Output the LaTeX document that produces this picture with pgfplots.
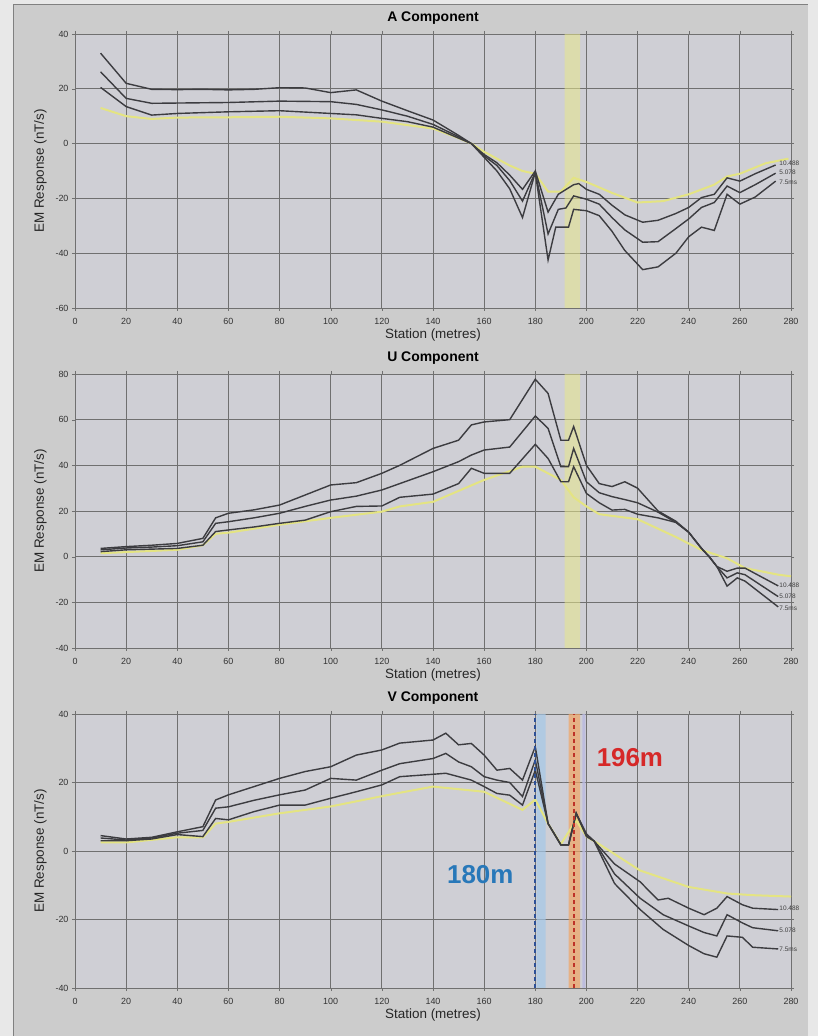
\documentclass[border=0pt]{standalone}
\usepackage{pgfplots}
\pgfplotsset{compat=1.18}
\usepackage{fontspec}
\setmainfont{Liberation Sans}

\definecolor{pagebg}{RGB}{232,232,232}
\definecolor{framebg}{RGB}{204,204,204}
\definecolor{plotbg}{RGB}{207,207,213}
\definecolor{gridc}{RGB}{112,112,112}
\definecolor{linec}{RGB}{60,60,64}
\definecolor{yel}{RGB}{228,228,130}
\definecolor{band}{RGB}{232,232,140}
\definecolor{bluelab}{RGB}{40,120,185}
\definecolor{bluedash}{RGB}{45,80,150}
\definecolor{bluebnd}{RGB}{165,200,232}
\definecolor{redlab}{RGB}{214,40,40}
\definecolor{reddash}{RGB}{190,50,40}
\definecolor{orangebnd}{RGB}{240,165,100}
\definecolor{lavbnd}{RGB}{185,185,225}

\tikzset{endlab/.style={font=\fontsize{6.5}{7}\selectfont, text=black!75, anchor=west, inner sep=1bp}}

\pgfplotsset{
  emplot/.style={
    scale only axis, width=716bp, height=274bp,
    xmin=0, xmax=280, xtick distance=20, ytick distance=20,
    grid=major, major grid style={gridc, line width=0.9bp},
    axis background/.style={fill=plotbg},
    axis line style={gridc, line width=0.9bp},
    tick style={gridc}, tick align=outside, major tick length=3bp,
    ticklabel style={font=\fontsize{9}{10}\selectfont, text=black!80},
    /pgf/number format/assume math mode=true,
    xticklabel style={yshift=-4bp},
    xlabel={Station (metres)}, ylabel={EM Response (nT/s)},
    label style={font=\fontsize{13.5}{15}\selectfont, text=black!85},
    xlabel style={yshift=3bp},
    ylabel style={yshift=2bp},
    title style={font=\bfseries\fontsize{14}{16}\selectfont, yshift=0bp},
    clip mode=individual
  },
  dline/.style={linec, line width=1.4bp, no marks, solid},
  yelplot/.style={line width=2bp, yel, no marks}
}

\begin{document}
\begin{tikzpicture}
\useasboundingbox (0,0) rectangle (818bp,1036bp);
\fill[pagebg] (0,0) rectangle (818bp,1036bp);
\fill[framebg] (13bp,0) rectangle (808bp,1031bp);
\draw[gray, line width=1bp] (13bp,0) -- (13bp,1031bp) -- (808bp,1031bp);

% ---------------- A component ----------------
\begin{axis}[emplot, at={(75bp,728bp)}, anchor=south west,
  ymin=-60, ymax=40, title={A Component}]
\addplot[fill=band, draw=none, opacity=0.55] coordinates {(191.5,-60) (197.5,-60) (197.5,40) (191.5,40)} \closedcycle;
\addplot[yelplot] coordinates {
  (10,13) (15,11.5) (20,10) (30,9) (40,9.5) (60,9.6) (80,9.8) (100,9.2) (120,8)
  (140,5.5) (150,2) (155,0) (160,-3) (170,-8) (175,-10) (180,-11) (185,-17.5)
  (190,-17.5) (195,-12.5) (200,-14) (210,-18) (220,-21.5) (230,-21) (240,-18.5)
  (250,-15) (255,-12) (260,-11) (270,-7.2) (279,-5.5)};
\addplot[dline] coordinates {
  (10,33) (20,22) (30,19.8) (40,19.7) (50,19.8) (60,19.6) (70,19.8) (80,20.4)
  (90,20.3) (100,18.6) (110,19.6) (120,15.5) (130,12) (140,8.6) (150,3) (155,0)
  (160,-5) (165,-10) (170,-16.5) (175,-27) (180,-10.5) (185,-42.5) (188,-30.5)
  (193,-30.5) (195,-24) (200,-24.5) (205,-26.3) (210,-32) (215,-39) (222,-46)
  (228,-45) (235,-40) (240,-34) (245,-30.5) (250,-31.7) (255,-18.5) (260,-22.1)
  (266,-19.5) (274,-13.7)};
\addplot[dline] coordinates {
  (10,26.2) (20,16.5) (30,14.7) (40,14.8) (60,15) (80,15.5) (100,15.3) (110,14.3)
  (120,12.3) (130,10) (140,7) (150,2.5) (155,0) (160,-4.5) (165,-8) (170,-13.5)
  (175,-21) (180,-10.5) (185,-33) (189,-24) (192,-23.5) (195,-19.1) (200,-20.3)
  (205,-22.1) (210,-27) (215,-31.5) (222,-36) (228,-35.8) (235,-31) (240,-27.5)
  (245,-23.3) (250,-21.5) (255,-15.5) (260,-17.9) (266,-15) (274,-10.8)};
\addplot[dline] coordinates {
  (10,20.5) (20,13.5) (30,10.4) (40,11) (60,11.6) (80,12) (100,11) (110,10.5)
  (120,9.2) (130,8) (140,6) (150,2) (155,0) (160,-4) (165,-7) (170,-11.5)
  (175,-16.7) (180,-10) (185,-25) (189,-18.5) (195,-15) (197,-14.6) (200,-16.7)
  (205,-18.5) (210,-22.5) (215,-26) (222,-28.7) (228,-28) (235,-25.5) (240,-23.3)
  (245,-19.7) (250,-18.5) (255,-12.5) (260,-13.7) (266,-11) (274,-7.8)};
\node[endlab] at (axis cs:275,-7.0) {10.488};
\node[endlab] at (axis cs:275,-10.5) {5.078};
\node[endlab] at (axis cs:275,-14.0) {7.5ms};
\end{axis}

% ---------------- U component ----------------
\begin{axis}[emplot, at={(75bp,388bp)}, anchor=south west,
  ymin=-40, ymax=80, title={U Component}]
\addplot[fill=band, draw=none, opacity=0.55] coordinates {(191.5,-40) (197.5,-40) (197.5,80) (191.5,80)} \closedcycle;
\addplot[yelplot] coordinates {
  (10,1.5) (20,2) (40,3) (50,5) (55,10) (60,10.5) (80,14) (100,17) (120,19.7)
  (127,22) (140,24) (160,33.6) (175,39.4) (180,39.4) (190,33.6) (195,26) (200,22)
  (205,18.6) (220,16.4) (235,8.6) (245,2.9) (255,-0.7) (262,-5) (275,-7.9) (280,-8.6)};
\addplot[dline] coordinates {
  (10,3.6) (20,4.4) (30,5) (40,5.8) (50,8) (55,17) (60,19) (70,20.5) (80,22.6)
  (90,27) (100,31.4) (110,32.4) (120,36.5) (127,40) (140,47.4) (150,51) (155,57.7)
  (160,59) (170,60) (180,77.7) (185,71.5) (190,51) (193,51) (195,57) (200,40)
  (205,32) (210,30.7) (215,32.8) (220,30) (228,20) (235,15.5) (240,10.7) (245,3.6)
  (248,0) (251,-4.3) (255,-12.9) (259,-9.3) (262,-10.7) (275,-22)};
\addplot[dline] coordinates {
  (10,3) (20,3.8) (30,4.2) (40,4.8) (50,6.5) (55,14.6) (60,15.3) (70,17) (80,19)
  (90,22) (100,24.8) (110,26.5) (120,29.2) (127,32) (140,37.2) (150,41.6) (155,44.5)
  (160,46.7) (170,48) (180,61.6) (185,56.2) (190,39.4) (193,39.4) (195,47.4) (200,32.8)
  (205,28) (210,26.3) (215,25) (220,23.6) (228,19.5) (235,15) (240,10.7) (245,3.6)
  (248,0) (251,-4.3) (255,-9.3) (259,-7.1) (262,-7.9) (275,-17.5)};
\addplot[dline] coordinates {
  (10,2.2) (20,3) (30,3.3) (40,3.6) (50,5) (55,11) (60,11.7) (70,13) (80,14.6)
  (90,16) (100,19.7) (110,22) (120,22.2) (127,26) (140,27.4) (150,32) (155,38.7)
  (160,36.5) (170,36.5) (180,49.2) (185,43) (190,32.8) (193,32.8) (195,39.4) (200,27.7)
  (205,23.6) (210,20.4) (215,20.7) (220,18.6) (228,17) (235,15) (240,10.7) (245,3.6)
  (248,0) (251,-4.3) (255,-6.4) (259,-5) (262,-5) (275,-12.8)};
\node[endlab] at (axis cs:275,-12.5) {10.488};
\node[endlab] at (axis cs:275,-17.5) {5.078};
\node[endlab] at (axis cs:275,-22.5) {7.5ms};
\end{axis}

% ---------------- V component ----------------
\begin{axis}[emplot, at={(75bp,48bp)}, anchor=south west,
  ymin=-40, ymax=40, title={V Component}]
\addplot[fill=bluebnd, draw=none, opacity=0.7] coordinates {(180.5,-40) (184,-40) (184,40) (180.5,40)} \closedcycle;
\addplot[fill=orangebnd, draw=none, opacity=0.7] coordinates {(193,-40) (197.5,-40) (197.5,40) (193,40)} \closedcycle;
\addplot[fill=lavbnd, draw=none, opacity=0.8] coordinates {(198.4,-40) (199.6,-40) (199.6,40) (198.4,40)} \closedcycle;
\addplot[yelplot] coordinates {
  (10,2.5) (20,2.5) (40,4) (50,4) (55,8) (60,8.5) (80,11) (100,13) (120,16) (127,17)
  (140,18.8) (160,17.3) (175,12) (180,15) (185,8) (190,2) (196,9) (200,4.2) (205,2)
  (221,-5.7) (240,-10.5) (255,-12.4) (265,-12.9) (280,-13.3)};
\addplot[dline] coordinates {
  (10,4.5) (20,3.5) (30,4) (40,5.6) (50,7.1) (55,14.9) (60,16.4) (70,18.8) (80,21.2)
  (90,23.2) (100,24.6) (110,28) (120,29.5) (127,31.5) (140,32.4) (145,34.4) (150,31)
  (155,31.4) (160,28) (165,23.6) (170,24.1) (175,20.7) (180,30.5) (185,8) (190,1.8)
  (193,1.8) (196,11) (200,5) (203,2.9) (211,-9.5) (221,-17.1) (230,-22.9) (240,-27.6)
  (246,-30) (251,-31) (255,-24.8) (261,-25.2) (265,-28.1) (275,-28.6)};
\addplot[dline] coordinates {
  (10,3.8) (20,3.2) (30,3.8) (40,5.2) (50,6) (55,12.5) (60,12.9) (70,14.8) (80,16.4)
  (90,17.8) (100,21.2) (110,20.7) (120,23.6) (127,25.5) (140,27) (145,28.5) (150,26)
  (155,24.6) (160,21.7) (165,20.7) (170,20) (175,15.9) (180,26.6) (185,8) (190,1.8)
  (193,1.8) (196,11) (200,4.6) (203,2.9) (211,-6.7) (221,-13.8) (230,-18.6) (240,-21.9)
  (246,-23.8) (251,-24.8) (255,-18.6) (261,-21) (265,-22.4) (275,-23.3)};
\addplot[dline] coordinates {
  (10,3) (20,3) (30,3.5) (40,4.8) (50,4.2) (55,9.5) (60,9.1) (70,11.5) (80,13.4)
  (90,13.4) (100,15.4) (110,17.3) (120,19.3) (127,21.7) (140,22.4) (145,22.7) (150,21.7)
  (155,20.7) (160,18.8) (165,16.8) (170,16.3) (175,13.4) (180,23.6) (185,8) (190,1.8)
  (193,1.8) (196,11) (200,4.2) (203,2.9) (211,-3.8) (221,-9) (228,-14.3) (232,-13.8)
  (240,-16.7) (246,-18.6) (251,-16.7) (255,-13.3) (261,-15.7) (265,-16.7) (275,-17.1)};
\addplot[bluedash, line width=1.8bp, dash pattern=on 4bp off 3bp, no marks] coordinates {(180,-40) (180,40)};
\addplot[reddash, line width=1.8bp, dash pattern=on 4bp off 3bp, no marks] coordinates {(195,-40) (195,40)};
\node[endlab] at (axis cs:275,-16.8) {10.488};
\node[endlab] at (axis cs:275,-23) {5.078};
\node[endlab] at (axis cs:275,-28.6) {7.5ms};
\node[font=\bfseries\fontsize{26}{28}\selectfont, text=bluelab] at (axis cs:158.5,-7) {180m};
\node[font=\bfseries\fontsize{26}{28}\selectfont, text=redlab] at (axis cs:217,27.4) {196m};
\end{axis}
\end{tikzpicture}
\end{document}
